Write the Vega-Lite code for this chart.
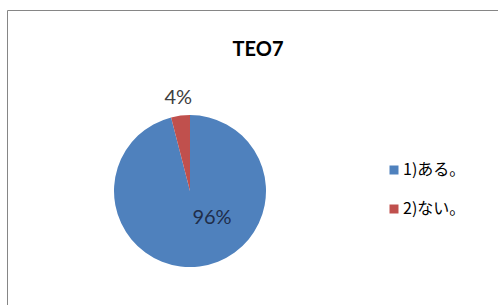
{
  "$schema": "https://vega.github.io/schema/vega-lite/v6.json",
  "width": 500,
  "height": 300,
  "autosize": "none",
  "padding": {"left": 7, "top": 10, "right": 0, "bottom": 0},
  "background": "white",
  "view": {"stroke": "#868686", "strokeWidth": 1, "fill": "white"},
  "config": {
    "font": "Lato"
  },
  "title": {
    "text": "TEO7",
    "font": "Lato",
    "fontSize": 20,
    "fontWeight": "bold",
    "color": "#000000",
    "anchor": "middle",
    "baseline": "alphabetic",
    "offset": -66,
    "dx": 1
  },
  "data": {
    "values": [
      {"category": "1)ある。", "percent": 96, "label": "96%"},
      {"category": "2)ない。", "percent": 4, "label": "4%"}
    ]
  },
  "encoding": {
    "theta": {"field": "percent", "type": "quantitative", "stack": true},
    "order": {"field": "category", "type": "nominal"}
  },
  "layer": [
    {
      "mark": {"type": "arc", "x": 183, "y": 181, "outerRadius": 76},
      "encoding": {
        "color": {
          "field": "category",
          "type": "nominal",
          "scale": {"domain": ["1)ある。", "2)ない。"], "range": ["#4F81BD", "#C0504D"]},
          "legend": {
            "title": null,
            "orient": "none",
            "legendX": 379,
            "legendY": 152,
            "padding": 0,
            "symbolType": "square",
            "symbolSize": 81,
            "symbolStrokeWidth": 0,
            "labelFont": "Noto Sans CJK JP",
            "labelFontSize": 16,
            "labelColor": "#000000",
            "labelOffset": 1,
            "rowPadding": 23
          }
        }
      }
    },
    {
      "mark": {"type": "text", "x": 183, "y": 181, "radius": 94, "fontSize": 20, "color": "#404040", "font": "Lato"},
      "encoding": {
        "text": {"condition": {"test": "datum.percent < 50", "field": "label"}, "value": ""}
      }
    },
    {
      "mark": {"type": "text", "x": 183, "y": 181, "radius": 0, "dx": 22, "dy": 27, "fontSize": 20, "color": "#1F2D4A", "font": "Lato"},
      "encoding": {
        "text": {"condition": {"test": "datum.percent >= 50", "field": "label"}, "value": ""}
      }
    }
  ]
}
